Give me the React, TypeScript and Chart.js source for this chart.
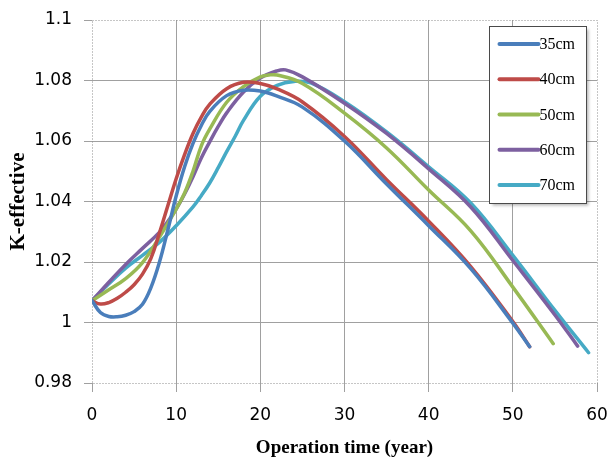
import React, { useEffect, useRef } from "react";
import { Chart, registerables } from "chart.js";

Chart.register(...registerables);

// ---- data ----
const seriesLabels = ["35cm", "40cm", "50cm", "60cm", "70cm"];
const seriesColors = ["#4A7EBB", "#BE4B48", "#98B954", "#7D60A0", "#46AAC5"];

const xTicks = [0, 10, 20, 30, 40, 50, 60];
const yTicks = [0.98, 1.0, 1.02, 1.04, 1.06, 1.08, 1.1];

const t35 = [0, 1, 2, 3, 4, 5, 6, 7, 8, 9, 10, 11, 12, 13, 14, 16, 18, 20, 22, 25, 30, 35, 40, 45, 50, 52];
const k35 = [1.0072, 1.0033, 1.002, 1.0019, 1.0024, 1.0036, 1.006, 1.0115, 1.0198, 1.0305, 1.0418, 1.0515, 1.0592, 1.0652, 1.0698, 1.075, 1.0768, 1.0765, 1.0748, 1.0712, 1.06, 1.0458, 1.032, 1.0178, 0.9998, 0.992];

const t40 = [0, 1, 2, 3, 4, 5, 6, 7, 8, 9, 10, 11, 12, 13, 14, 16, 18, 20, 22, 25, 30, 35, 40, 45, 50, 52];
const k40 = [1.0072, 1.0061, 1.0066, 1.008, 1.01, 1.0125, 1.016, 1.0212, 1.0295, 1.0385, 1.0475, 1.0555, 1.0625, 1.068, 1.0722, 1.0773, 1.0794, 1.079, 1.0772, 1.0729, 1.0615, 1.0472, 1.0335, 1.0185, 1.0003, 0.992];

const t50 = [0, 2, 4, 6, 8, 10, 11, 12, 13, 14, 16, 18, 20, 21, 22, 25, 30, 35, 40, 45, 50, 54.8];
const k50 = [1.0072, 1.0108, 1.0145, 1.0198, 1.0282, 1.0375, 1.0428, 1.05, 1.0585, 1.064, 1.0728, 1.078, 1.0812, 1.0818, 1.0818, 1.079, 1.0692, 1.0577, 1.0438, 1.0303, 1.0117, 0.993];

const t60 = [0, 2, 4, 6, 8, 9, 10, 11, 12, 13, 14, 15, 16, 18, 20, 22, 23, 25, 30, 35, 40, 45, 50, 55, 57.7];
const k60 = [1.0072, 1.0133, 1.0192, 1.0245, 1.0298, 1.0334, 1.0375, 1.0425, 1.0482, 1.0545, 1.0598, 1.0648, 1.0693, 1.0762, 1.0808, 1.0832, 1.0835, 1.0812, 1.0725, 1.0625, 1.0508, 1.0382, 1.0205, 1.0025, 0.9922];

const t70 = [0, 2, 4, 6, 8, 10, 12, 13, 14, 15, 16, 17, 18, 20, 22, 24, 26, 30, 35, 40, 45, 50, 55, 59];
const k70 = [1.0072, 1.0128, 1.018, 1.0222, 1.0265, 1.032, 1.0382, 1.042, 1.0462, 1.0512, 1.0565, 1.0615, 1.0668, 1.0748, 1.0784, 1.0797, 1.0792, 1.073, 1.063, 1.0515, 1.0395, 1.0222, 1.004, 0.99];

const seriesTimes = [t35, t40, t50, t60, t70];
const seriesValues = [k35, k40, k50, k60, k70];

const xTitle = "Operation time (year)";
const yTitle = "K-effective";

const makeSeries = (t: number[], k: number[]) => t.map((x, i) => ({ x, y: k[i] }));

export default function App() {
  const ref = useRef<HTMLCanvasElement>(null);

  useEffect(() => {
    const canvas = ref.current;
    if (!canvas) return;

    const borderPlugin = {
      id: "plotBorder",
      beforeDatasetsDraw(chart: any) {
        const { ctx, chartArea: a } = chart;
        ctx.save();
        ctx.strokeStyle = "#8c8c8c";
        ctx.lineWidth = 1;
        ctx.setLineDash([1, 2]);
        ctx.strokeRect(Math.floor(a.left) + 0.5, Math.floor(a.top) + 0.5, Math.round(a.right - a.left), Math.round(a.bottom - a.top));
        ctx.restore();
      },
    };

    const legendPlugin = {
      id: "boxLegend",
      afterDatasetsDraw(chart: any) {
        const { ctx } = chart;
        const x0 = 489.5;
        const y0 = 26.5;
        const w = 97;
        const h = 177;
        ctx.save();
        ctx.shadowColor = "rgba(0,0,0,0.3)";
        ctx.shadowOffsetX = 2;
        ctx.shadowOffsetY = 2;
        ctx.shadowBlur = 3;
        ctx.fillStyle = "#ffffff";
        ctx.fillRect(x0, y0, w, h);
        ctx.restore();
        ctx.save();
        ctx.strokeStyle = "#4a4a4a";
        ctx.lineWidth = 1;
        ctx.strokeRect(x0, y0, w, h);
        chart.data.datasets.forEach((ds: any, i: number) => {
          const y = y0 + 17.5 + i * 35.25;
          ctx.strokeStyle = ds.borderColor;
          ctx.lineWidth = 4;
          ctx.lineCap = "round";
          ctx.beginPath();
          ctx.moveTo(x0 + 10, y);
          ctx.lineTo(x0 + 49, y);
          ctx.stroke();
          ctx.fillStyle = "#000";
          ctx.font = '16px "Liberation Serif"';
          ctx.textBaseline = "middle";
          ctx.textAlign = "left";
          ctx.fillText(ds.label, x0 + 50, y + 1);
        });
        ctx.restore();
      },
    };

    const gridColor = "#a0a0a0";

    const chart = new Chart(canvas, {
      type: "line",
      data: {
        datasets: seriesLabels.map((label, i) => ({
          label,
          data: makeSeries(seriesTimes[i], seriesValues[i]),
          borderColor: seriesColors[i],
          backgroundColor: seriesColors[i],
          borderWidth: 3.5,
          pointRadius: 0,
          fill: false,
          tension: 0.4,
          borderCapStyle: "round" as const,
          borderJoinStyle: "round" as const,
        })),
      },
      options: {
        animation: false,
        responsive: false,
        maintainAspectRatio: false,
        layout: { padding: { top: 20, right: 12, left: 0, bottom: 0 } },
        plugins: { legend: { display: false }, tooltip: { enabled: false } },
        scales: {
          x: {
            type: "linear",
            min: xTicks[0],
            max: xTicks[xTicks.length - 1],
            afterBuildTicks: (s: any) => {
              s.ticks = xTicks.map((v) => ({ value: v }));
            },
            afterFit: (s: any) => {
              s.height = 76;
              s.paddingLeft = 0;
              s.paddingRight = 0;
            },
            grid: {
              color: (c: any) =>
                c.tick && (c.tick.value === xTicks[0] || c.tick.value === xTicks[xTicks.length - 1]) ? "rgba(0,0,0,0)" : gridColor,
              tickColor: gridColor,
              tickLength: 9,
              lineWidth: 1,
            },
            border: { display: false },
            ticks: {
              color: "#000",
              font: { family: "DejaVu Sans", size: 17 },
              padding: 13,
              maxRotation: 0,
              autoSkip: false,
              callback: (v: any) => String(v),
            },
            title: {
              display: true,
              text: xTitle,
              color: "#000",
              font: { family: "Liberation Serif", size: 19, weight: "bold", lineHeight: 1.2 },
              padding: { top: 0, bottom: 0 },
            },
          },
          y: {
            type: "linear",
            min: yTicks[0],
            max: yTicks[yTicks.length - 1],
            afterBuildTicks: (s: any) => {
              s.ticks = yTicks.map((v) => ({ value: v }));
            },
            afterFit: (s: any) => {
              s.width = 92;
              s.paddingTop = 0;
              s.paddingBottom = 0;
            },
            grid: {
              color: (c: any) =>
                c.tick && (Math.abs(c.tick.value - yTicks[0]) < 1e-9 || Math.abs(c.tick.value - yTicks[yTicks.length - 1]) < 1e-9)
                  ? "rgba(0,0,0,0)"
                  : gridColor,
              tickColor: gridColor,
              tickLength: 8,
              lineWidth: 1,
            },
            border: { display: false },
            ticks: {
              color: "#000",
              font: { family: "DejaVu Sans", size: 17 },
              padding: 12,
              autoSkip: false,
              callback: (v: any) => String(Number(Number(v).toFixed(2))),
            },
            title: {
              display: true,
              text: yTitle,
              color: "#000",
              font: { family: "Liberation Serif", size: 21, weight: "bold", lineHeight: 1.2 },
              padding: { top: 6, bottom: 0 },
            },
          },
        },
      },
      plugins: [borderPlugin, legendPlugin],
    } as any);

    return () => chart.destroy();
  }, []);

  return (
    <div style={{ position: "absolute", left: 0, top: 0, width: 609, height: 459, background: "#fff" }}>
      <canvas ref={ref} width={609} height={459} style={{ display: "block", width: 609, height: 459 }} />
    </div>
  );
}
